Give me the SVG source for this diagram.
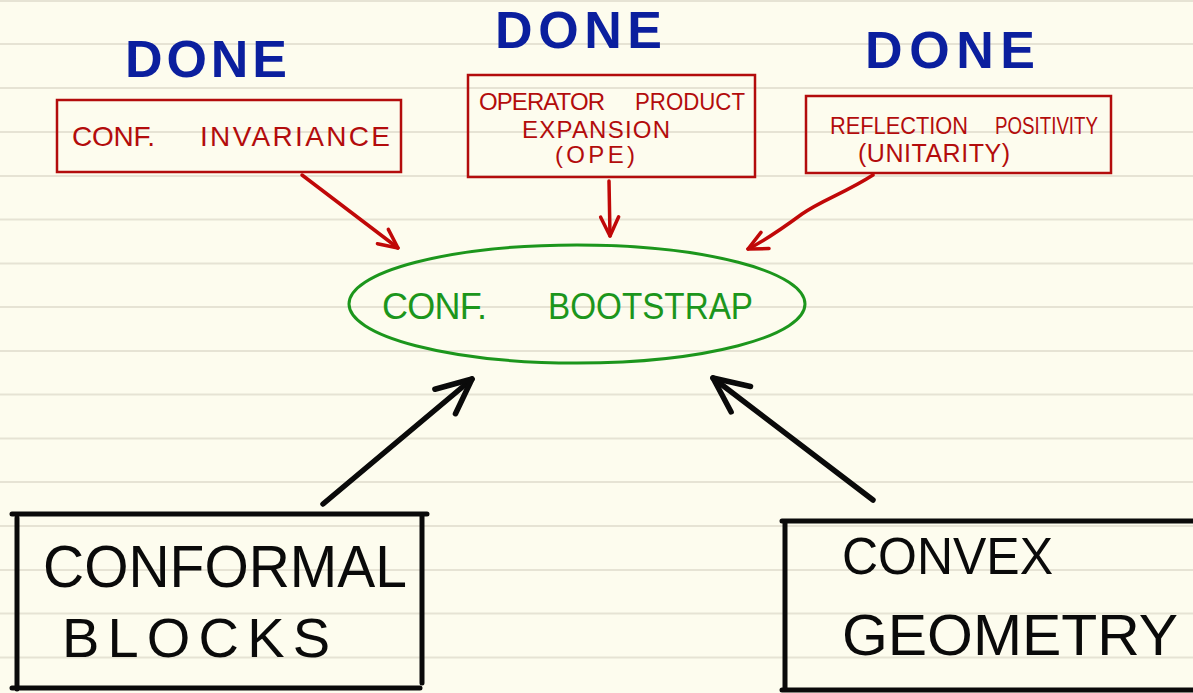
<svg xmlns="http://www.w3.org/2000/svg" width="1193" height="693" viewBox="0 0 1193 693">
  <defs>
    <style>
      .rule { stroke: #e6e3d4; stroke-width: 2; }
      .done { font-family: "Liberation Sans", "DejaVu Sans", sans-serif; font-size: 52px; fill: #0b1f9e; font-weight: bold; }
      .red-box { fill: none; stroke: #b30c0c; stroke-width: 2.5; }
      .red-text { font-family: "Liberation Sans", "DejaVu Sans", sans-serif; fill: #b30c0c; }
      .green-text { font-family: "Liberation Sans", "DejaVu Sans", sans-serif; fill: #1c961c; font-size: 36px; }
      .black-box { fill: none; stroke: #0a0a0a; stroke-width: 5; stroke-linecap: round; }
      .black-text { font-family: "Liberation Sans", "DejaVu Sans", sans-serif; fill: #0a0a0a; }
      .red-arrow { fill: none; stroke: #c00808; stroke-width: 3.5; stroke-linecap: round; }
      .black-arrow { fill: none; stroke: #0a0a0a; stroke-width: 5.5; stroke-linecap: round; }
    </style>
    <marker id="redHead" markerUnits="userSpaceOnUse" orient="auto" overflow="visible" refX="0" refY="0" markerWidth="30" markerHeight="30">
      <path d="M -19,-9 L 0,0 L -19,9" fill="none" stroke="#c00808" stroke-width="3.5" stroke-linecap="round" stroke-linejoin="round"/>
    </marker>
    <marker id="blackHead" markerUnits="userSpaceOnUse" orient="auto" overflow="visible" refX="0" refY="0" markerWidth="50" markerHeight="50">
      <path d="M -35,-16 L 0,0 L -35,16" fill="none" stroke="#0a0a0a" stroke-width="5.5" stroke-linecap="round" stroke-linejoin="round"/>
    </marker>
  </defs>

  <!-- paper -->
  <rect x="0" y="0" width="1193" height="693" fill="#fdfcee"/>
  <g id="ruling">
    <line class="rule" x1="0" y1="1" x2="1193" y2="1"/>
    <line class="rule" x1="0" y1="44" x2="1193" y2="44"/>
    <line class="rule" x1="0" y1="88" x2="1193" y2="88"/>
    <line class="rule" x1="0" y1="132" x2="1193" y2="132"/>
    <line class="rule" x1="0" y1="176" x2="1193" y2="176"/>
    <line class="rule" x1="0" y1="219.5" x2="1193" y2="219.5"/>
    <line class="rule" x1="0" y1="263.5" x2="1193" y2="263.5"/>
    <line class="rule" x1="0" y1="307" x2="1193" y2="307"/>
    <line class="rule" x1="0" y1="351" x2="1193" y2="351"/>
    <line class="rule" x1="0" y1="394.5" x2="1193" y2="394.5"/>
    <line class="rule" x1="0" y1="438.5" x2="1193" y2="438.5"/>
    <line class="rule" x1="0" y1="482" x2="1193" y2="482"/>
    <line class="rule" x1="0" y1="526" x2="1193" y2="526"/>
    <line class="rule" x1="0" y1="570" x2="1193" y2="570"/>
    <line class="rule" x1="0" y1="613.5" x2="1193" y2="613.5"/>
    <line class="rule" x1="0" y1="657.5" x2="1193" y2="657.5"/>
  </g>

  <!-- DONE labels -->
  <g id="done-labels">
    <text class="done" x="125" y="77" textLength="162" lengthAdjust="spacing">DONE</text>
    <text class="done" x="495" y="48" textLength="167" lengthAdjust="spacing">DONE</text>
    <text class="done" x="865" y="68" font-size="56" textLength="170" lengthAdjust="spacing">DONE</text>
  </g>

  <!-- red nodes -->
  <g id="node-conf-invariance">
    <rect class="red-box" x="57" y="100" width="344" height="72"/>
    <text class="red-text" x="72" y="146" font-size="28" textLength="83" lengthAdjust="spacing">CONF.</text>
    <text class="red-text" x="200" y="146" font-size="28" textLength="190" lengthAdjust="spacing">INVARIANCE</text>
  </g>
  <g id="node-ope">
    <rect class="red-box" x="468" y="75" width="287" height="102"/>
    <text class="red-text" x="479" y="110" font-size="24" textLength="126" lengthAdjust="spacing">OPERATOR</text>
    <text class="red-text" x="635" y="110" font-size="24" textLength="110" lengthAdjust="spacingAndGlyphs">PRODUCT</text>
    <text class="red-text" x="522" y="138" font-size="24" textLength="148" lengthAdjust="spacing">EXPANSION</text>
    <text class="red-text" x="555" y="163" font-size="24" textLength="80" lengthAdjust="spacing">(OPE)</text>
  </g>
  <g id="node-reflection">
    <rect class="red-box" x="806" y="96" width="305" height="77"/>
    <text class="red-text" x="830" y="134" font-size="24" textLength="138" lengthAdjust="spacingAndGlyphs">REFLECTION</text>
    <text class="red-text" x="995" y="134" font-size="24" textLength="103" lengthAdjust="spacingAndGlyphs">POSITIVITY</text>
    <text class="red-text" x="858" y="162" font-size="25" textLength="152" lengthAdjust="spacing">(UNITARITY)</text>
  </g>

  <!-- central node -->
  <g id="node-bootstrap">
    <ellipse cx="577" cy="304" rx="228" ry="59" fill="none" stroke="#1c961c" stroke-width="3"/>
    <text class="green-text" x="382" y="319" textLength="105" lengthAdjust="spacing">CONF.</text>
    <text class="green-text" x="548" y="319" font-size="35" textLength="205" lengthAdjust="spacingAndGlyphs">BOOTSTRAP</text>
  </g>

  <!-- black nodes -->
  <g id="node-conformal-blocks">
    <path class="black-box" d="M 12,514 H 427 M 422,514 V 683 M 17,518 V 689 M 12,688 H 420"/>
    <text class="black-text" x="43" y="587" font-size="60" textLength="364" lengthAdjust="spacingAndGlyphs">CONFORMAL</text>
    <text class="black-text" x="62" y="657" font-size="56" textLength="268" lengthAdjust="spacing">BLOCKS</text>
  </g>
  <g id="node-convex-geometry">
    <path class="black-box" d="M 782,521 H 1195 M 785,521 V 690 M 782,690 H 1195"/>
    <text class="black-text" x="842" y="574" font-size="52" textLength="211" lengthAdjust="spacingAndGlyphs">CONVEX</text>
    <text class="black-text" x="842" y="655" font-size="58" textLength="336" lengthAdjust="spacingAndGlyphs">GEOMETRY</text>
  </g>

  <!-- connectors -->
  <g id="connectors">
    <path class="red-arrow" d="M 302,175 L 398,248" marker-end="url(#redHead)"/>
    <path class="red-arrow" d="M 609,181 L 610,236" marker-end="url(#redHead)"/>
    <path class="red-arrow" d="M 873,175 C 845,193 822,200 802,214 C 783,228 766,240 748,249" marker-end="url(#redHead)"/>
    <path class="black-arrow" d="M 323,504 L 472,379" marker-end="url(#blackHead)"/>
    <path class="black-arrow" d="M 873,500 L 713,378" marker-end="url(#blackHead)"/>
  </g>
</svg>
